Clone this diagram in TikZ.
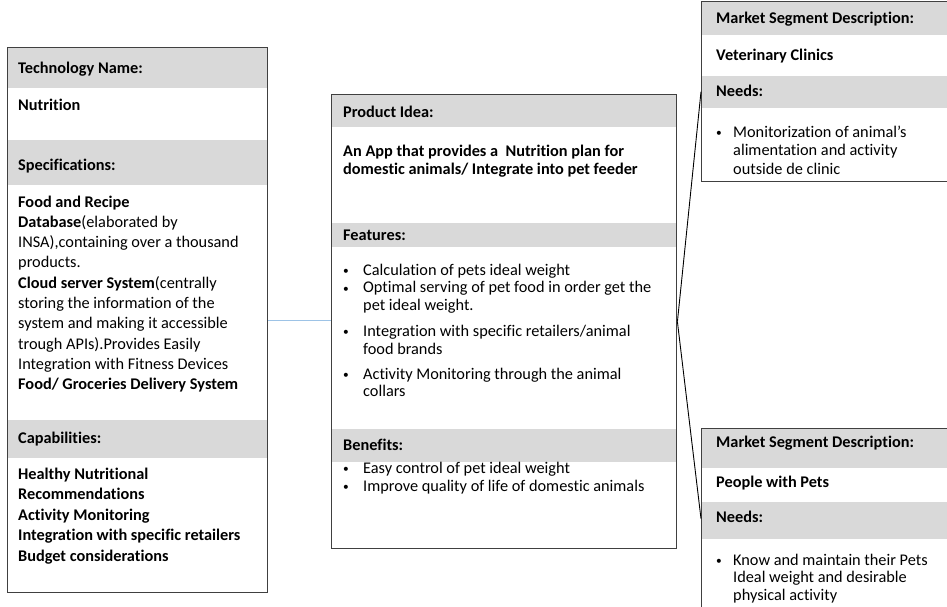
\documentclass[tikz,border=0pt]{standalone}
\usepackage{graphicx}
\usepackage{fontspec}
\setmainfont{Carlito}[Ligatures=NoCommon]
\definecolor{bandgray}{HTML}{D9D9D9}
\definecolor{framegray}{HTML}{404040}
\definecolor{linkblue}{HTML}{9DC3E6}
\tikzset{
  cardframe/.style={draw=framegray, line width=1.4pt, inner sep=0pt, anchor=north west},
  headtxt/.style={anchor=base west, inner sep=0pt, font=\bfseries\fontsize{16.3}{20}\selectfont},
  bodytxt/.style={anchor=base west, inner sep=0pt},
}
% text block whose base is its first line
\newcommand\cardtext[2]{\parbox[t]{#1}{\raggedright #2}}
% bullet line with hanging indent (\\ stays inside the paragraph)
\newcommand\dotitem[2][20pt]{\hangindent=#1\hangafter=1\noindent
  \makebox[#1][l]{\raisebox{0.7pt}{\scalebox{0.7}{\textbullet}}}{\let\\\newline #2\par}}
\begin{document}
\begin{tikzpicture}[x=1pt,y=-1pt]
\useasboundingbox (0,0) rectangle (947,606);
\clip (0,0) rectangle (947,606);

% technology card
\fill[bandgray] (7,47) rectangle (267,88);
\fill[bandgray] (7,140) rectangle (267,185);
\fill[bandgray] (7,420) rectangle (267,458);
\node[cardframe, minimum width=260pt, minimum height=545pt] (tech) at (7,47) {};
\node[headtxt] (techhd) at (18,73) {Technology Name:};
\node[headtxt] (techname) at (18,110) {Nutrition};
\node[headtxt] (spechd) at (18,170) {Specifications:};
\node[bodytxt, font=\fontsize{16.3}{20.3}\selectfont] (specs) at (18,207)
  {\cardtext{245pt}{\textbf{Food and Recipe}\\
   \textbf{Database}(elaborated by\\
   INSA),containing over a thousand\\
   products.\\
   \textbf{Cloud server System}(centrally\\
   storing the information of the\\
   system and making it accessible\\
   trough APIs).Provides Easily\\
   Integration with Fitness Devices\\
   \textbf{Food/ Groceries Delivery System}}};
\node[headtxt] (caphd) at (18,443) {Capabilities:};
\node[bodytxt, font=\bfseries\fontsize{16.3}{20.5}\selectfont] (caps) at (18,479)
  {\cardtext{245pt}{Healthy Nutritional\\
   Recommendations\\
   Activity Monitoring\\
   Integration with specific retailers\\
   Budget considerations}};

% product idea card
\fill[bandgray] (331,94) rectangle (676,127);
\fill[bandgray] (331,223) rectangle (676,247);
\fill[bandgray] (331,429) rectangle (676,462);
\node[cardframe, minimum width=345pt, minimum height=454pt] (idea) at (331,94) {};
\node[headtxt] (ideahd) at (343,117) {Product Idea:};
\node[bodytxt, font=\bfseries\fontsize{16.3}{18}\selectfont] (ideatxt) at (343,156)
  {\cardtext{325pt}{An App that provides a \ Nutrition plan for\\
   domestic animals/ Integrate into pet feeder}};
\node[headtxt] (feathd) at (343,240) {Features:};
\node[bodytxt, font=\fontsize{16.3}{17.8}\selectfont] (feats) at (343,275)
  {\cardtext{325pt}{%
   \dotitem{Calculation of pets ideal weight}
   \dotitem{Optimal serving of pet food in order get the\\pet ideal weight.}
   \vspace{8pt}
   \dotitem{Integration with specific retailers/animal\\food brands}
   \vspace{7pt}
   \dotitem{Activity Monitoring through the animal\\collars}}};
\node[headtxt] (benhd) at (343,450) {Benefits:};
\node[bodytxt, font=\fontsize{16.3}{18}\selectfont] (bens) at (343,473)
  {\cardtext{325pt}{\dotitem{Easy control of pet ideal weight}
   \dotitem{Improve quality of life of domestic animals}}};

% market segment cards
\fill[bandgray] (701,1) rectangle (961,35);
\fill[bandgray] (701,76) rectangle (961,108);
\node[cardframe, minimum width=260pt, minimum height=180pt] (seg1) at (701,1) {};
\node[headtxt] (seg1hd) at (716,23) {Market Segment Description:};
\node[headtxt] (seg1name) at (716,60) {Veterinary Clinics};
\node[headtxt] (seg1needhd) at (716,96) {Needs:};
\node[bodytxt, font=\fontsize{16.3}{18.5}\selectfont] (seg1needs) at (716,137)
  {\cardtext{225pt}{\dotitem[17pt]{Monitorization of animal's\\alimentation and activity\\outside de clinic}}};

\fill[bandgray] (701,428) rectangle (961,468);
\fill[bandgray] (701,502) rectangle (961,539);
\node[cardframe, minimum width=260pt, minimum height=180pt] (seg2) at (701,428) {};
\node[headtxt] (seg2hd) at (716,447) {Market Segment Description:};
\node[headtxt] (seg2name) at (716,487) {People with Pets};
\node[headtxt] (seg2needhd) at (716,522) {Needs:};
\node[bodytxt, font=\fontsize{16.3}{17.6}\selectfont] (seg2needs) at (716,565)
  {\cardtext{225pt}{\dotitem[17pt]{Know and maintain their Pets\\Ideal weight and desirable\\physical activity}}};

% links between cards
\draw[linkblue, line width=1pt] (tech.east) -- (tech.east -| idea.west);
\draw[line width=0.9pt] (idea.east) -- (seg1.west);
\draw[line width=0.9pt] (idea.east) -- (seg2.west);
\end{tikzpicture}
\end{document}
